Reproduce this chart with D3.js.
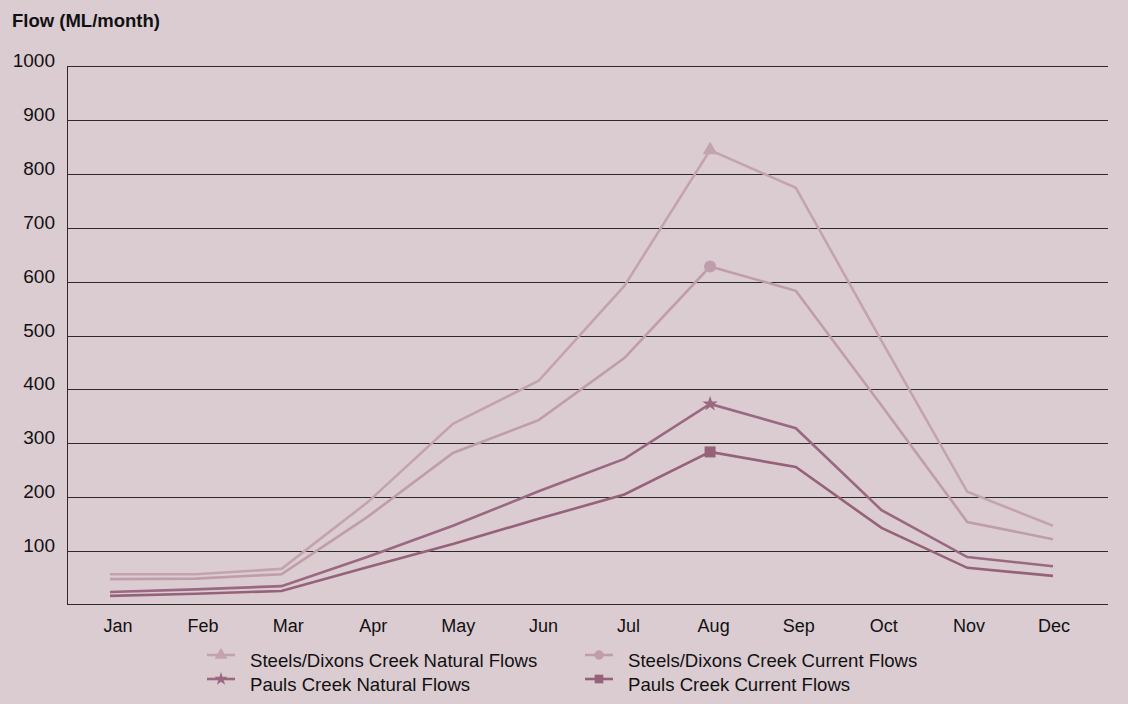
<!DOCTYPE html>
<html>
<head>
<meta charset="utf-8">
<script src="https://cdn.jsdelivr.net/npm/d3@7/dist/d3.min.js"></script>
<style>
  html, body { margin: 0; padding: 0; background: #dbccd2; }
  svg { display: block; font-family: "Liberation Sans", Arial, sans-serif; }
</style>
</head>
<body>
<svg id="chart" width="1128" height="704"></svg>
<script>
// Monthly flows (ML/month)
const months = ["Jan","Feb","Mar","Apr","May","Jun","Jul","Aug","Sep","Oct","Nov","Dec"];
const yTicks = [100,200,300,400,500,600,700,800,900,1000];

const steelsNatural = [57, 57, 67, 190, 336, 416, 592, 844, 774, 490, 210, 147];
const steelsCurrent = [48, 49, 57, 163, 282, 343, 458, 628, 583, 370, 154, 122];
const paulsNatural  = [24, 29, 35, 89, 147, 211, 271, 373, 328, 176, 89, 72];
const paulsCurrent  = [17, 21, 26, 70, 113, 160, 205, 284, 256, 143, 69, 54];

const seriesNames = [
  "Steels/Dixons Creek Natural Flows",
  "Steels/Dixons Creek Current Flows",
  "Pauls Creek Natural Flows",
  "Pauls Creek Current Flows"
];
const markedMonth = "Aug";

const series = [
  { name: seriesNames[0], values: steelsNatural, color: "#c4a3b0", symbol: d3.symbolTriangle, size: 95,  legendSize: 70 },
  { name: seriesNames[1], values: steelsCurrent, color: "#bf9dab", symbol: d3.symbolCircle,   size: 115, legendSize: 70 },
  { name: seriesNames[2], values: paulsNatural,  color: "#9a6880", symbol: d3.symbolStar,     size: 75,  legendSize: 55 },
  { name: seriesNames[3], values: paulsCurrent,  color: "#956279", symbol: d3.symbolSquare,   size: 121, legendSize: 75 }
];

const svg = d3.select("#chart");
const plot = { left: 67, right: 1108, top: 66, bottom: 605 };

const x = d3.scalePoint().domain(months).range([110, 1053]);
// month labels sit on a slightly narrower spread than the data points
const xLabel = d3.scalePoint().domain(months).range([118, 1054]);
const y = d3.scaleLinear().domain([0, 1000]).range([plot.bottom, plot.top]);

// Title
svg.append("text")
  .attr("x", 12).attr("y", 27)
  .attr("font-size", 18.5).attr("font-weight", "bold")
  .attr("fill", "#111")
  .text("Flow (ML/month)");

// Horizontal gridlines
svg.append("g").selectAll("line").data(yTicks).join("line")
  .attr("x1", plot.left).attr("x2", plot.right)
  .attr("y1", d => Math.round(y(d)) + 0.5).attr("y2", d => Math.round(y(d)) + 0.5)
  .attr("stroke", "#2e2a2c").attr("stroke-width", 1);

// Y tick labels
svg.append("g").selectAll("text").data(yTicks).join("text")
  .attr("x", 55).attr("y", d => y(d) + 1)
  .attr("text-anchor", "end")
  .attr("font-size", 19).attr("fill", "#111")
  .text(d => d);

// Axis lines
svg.append("line")
  .attr("x1", plot.left + 0.5).attr("x2", plot.left + 0.5)
  .attr("y1", plot.top).attr("y2", plot.bottom)
  .attr("stroke", "#2e2a2c");
svg.append("line")
  .attr("x1", plot.left).attr("x2", plot.right)
  .attr("y1", plot.bottom - 0.5).attr("y2", plot.bottom - 0.5)
  .attr("stroke", "#2e2a2c");

// X labels
svg.append("g").selectAll("text").data(months).join("text")
  .attr("x", d => xLabel(d)).attr("y", 632)
  .attr("text-anchor", "middle")
  .attr("font-size", 18).attr("fill", "#111")
  .text(d => d);

// Lines
const line = d3.line()
  .x((d, i) => x(months[i]))
  .y(d => y(d));

const gSeries = svg.append("g");
series.forEach(s => {
  gSeries.append("path")
    .attr("d", line(s.values))
    .attr("fill", "none")
    .attr("stroke", s.color)
    .attr("stroke-width", 2.6)
    .attr("stroke-linejoin", "miter");
});

// Peak markers
series.forEach(s => {
  const i = months.indexOf(markedMonth);
  gSeries.append("path")
    .attr("d", d3.symbol().type(s.symbol).size(s.size)())
    .attr("transform", `translate(${x(markedMonth)},${y(s.values[i])})`)
    .attr("fill", s.color);
});

// Legend
const legendPos = [
  { lx: 207, ty: 661 }, { lx: 585, ty: 661 },
  { lx: 207, ty: 685 }, { lx: 585, ty: 685 }
];
const legend = svg.append("g");
series.forEach((s, k) => {
  const p = legendPos[k];
  const cy = p.ty - 6;
  legend.append("line")
    .attr("x1", p.lx).attr("x2", p.lx + 28)
    .attr("y1", cy).attr("y2", cy)
    .attr("stroke", s.color).attr("stroke-width", 2.6);
  legend.append("path")
    .attr("d", d3.symbol().type(s.symbol).size(s.legendSize)())
    .attr("transform", `translate(${p.lx + 14},${cy})`)
    .attr("fill", s.color);
  legend.append("text")
    .attr("x", p.lx + 43).attr("y", p.ty + 6)
    .attr("font-size", 18.6).attr("fill", "#111")
    .text(s.name);
});
</script>
</body>
</html>
